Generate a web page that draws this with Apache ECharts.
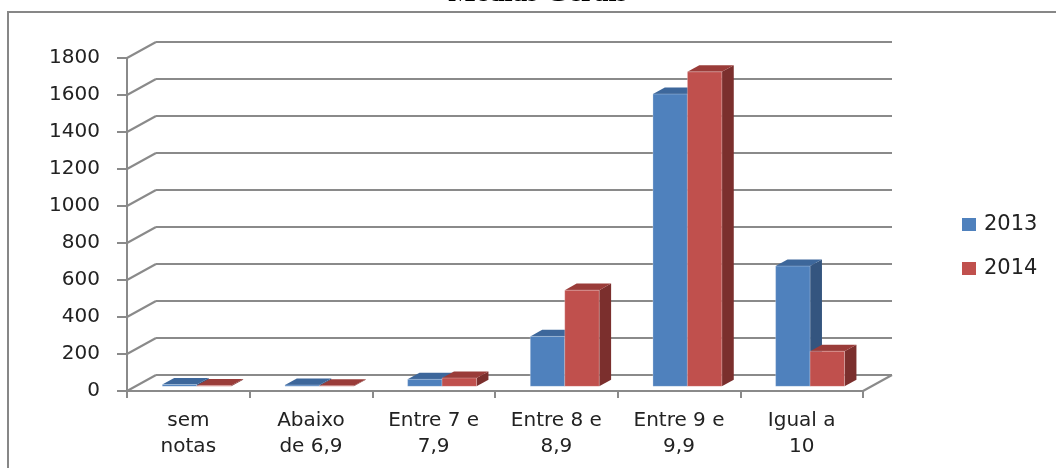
<!DOCTYPE html>
<html>
<head>
<meta charset="utf-8">
<script src="https://cdn.jsdelivr.net/npm/echarts@6/dist/echarts.min.js"></script>
<style>
html,body{margin:0;padding:0;background:#fff;}
#chart{width:1056px;height:468px;}
</style>
</head>
<body>
<div id="chart"></div>
<script>
const categories = ['sem\nnotas', 'Abaixo\nde 6,9', 'Entre 7 e\n7,9', 'Entre 8 e\n8,9', 'Entre 9 e\n9,9', 'Igual a\n10'];
const seriesNames = ['2013', '2014'];
const values2013 = [10, 7, 38, 270, 1580, 650];
const values2014 = [5, 3, 45, 520, 1700, 190];
const yTicks = [0, 200, 400, 600, 800, 1000, 1200, 1400, 1600, 1800];
const titleText = 'Medias Gerais';

// layout (front plane and back wall of the 3D box)
const FRONT = {left: 127, top: 58, right: 193, bottom: 77};
const BACK = {left: 156, top: 42, right: 164, bottom: 93};
const DX = BACK.left - FRONT.left;
const DY = BACK.top - FRONT.top;
const F1 = 0.29, F2 = 0.70, BAR_FRAC = 0.281;
const GRID_COLOR = '#8a8a8a';
const TEXT_COLOR = '#222';
const FONT = '"DejaVu Sans", Verdana, sans-serif';

const faces = {
  '2013': {front: '#4F81BD', top: '#3D679B', side: '#34557F'},
  '2014': {front: '#C0504D', top: '#9A3C39', side: '#7B2F2D'}
};

function barRenderer(name, idx) {
  const c = faces[name];
  return function (params, api) {
    const i = api.value(0), v = api.value(1);
    const top = api.coord([i, v]);
    const base = api.coord([i, 0]);
    const band = api.size([1, 0])[0];
    const w = band * BAR_FRAC;
    const x0 = top[0] - w + idx * w;
    const yT = top[1], yB = base[1];
    const fx = x0 + F1 * DX, fyT = yT + F1 * DY, fyB = yB + F1 * DY;
    const bx = x0 + F2 * DX, byT = yT + F2 * DY, byB = yB + F2 * DY;
    return {
      type: 'group',
      children: [
        {type: 'polygon', shape: {points: [[fx + w, fyT], [bx + w, byT], [bx + w, byB], [fx + w, fyB]]},
         style: {fill: c.side}},
        {type: 'polygon', shape: {points: [[fx, fyT], [fx + w, fyT], [bx + w, byT], [bx, byT]]},
         style: {fill: c.top}},
        {type: 'rect', shape: {x: fx, y: fyT, width: w, height: fyB - fyT},
         style: {fill: c.front, stroke: 'rgba(255,255,255,0.25)', lineWidth: 1}}
      ]
    };
  };
}

const chart = echarts.init(document.getElementById('chart'), null, {renderer: 'canvas'});
chart.setOption({
  animation: false,
  backgroundColor: '#fff',
  graphic: [
    {type: 'rect', shape: {x: 8, y: 12, width: 1200, height: 600},
     style: {fill: 'none', stroke: '#878787', lineWidth: 2}, z: 0},
    {type: 'text', x: 538, y: -6,
     style: {text: titleText, font: 'bold 29px "Liberation Serif", "Times New Roman", serif',
             fill: '#000', textAlign: 'center', textVerticalAlign: 'middle'}}
  ],
  legend: {
    orient: 'vertical', left: 957, top: 209, itemWidth: 14, itemHeight: 13, itemGap: 23,
    textStyle: {fontFamily: FONT, fontSize: 21, color: TEXT_COLOR, padding: [0, 0, 0, 3]},
    data: seriesNames.map(n => ({name: n, icon: 'rect'}))
  },
  grid: [
    Object.assign({containLabel: false}, FRONT),
    Object.assign({containLabel: false}, BACK)
  ],
  xAxis: [
    {type: 'category', gridIndex: 0, data: categories, boundaryGap: true,
     axisLine: {show: true, lineStyle: {color: GRID_COLOR, width: 2}},
     axisTick: {show: true, length: 7, lineStyle: {color: GRID_COLOR, width: 2}},
     axisLabel: {fontFamily: FONT, fontSize: 20, color: TEXT_COLOR, margin: 17, lineHeight: 26, interval: 0}},
    {type: 'category', gridIndex: 1, data: categories, show: false}
  ],
  yAxis: [
    {type: 'value', gridIndex: 0, min: 0, max: 1800, interval: 200,
     axisLine: {show: true, lineStyle: {color: GRID_COLOR, width: 2}},
     axisTick: {show: true, length: 10, lineStyle: {color: GRID_COLOR, width: 2}},
     axisLabel: {fontFamily: FONT, fontSize: 20, color: TEXT_COLOR, margin: 27,
                 formatter: function (v) { return String(v); }},
     splitLine: {show: false}},
    {type: 'value', gridIndex: 1, min: 0, max: 1800, interval: 200,
     axisLine: {show: false}, axisTick: {show: false}, axisLabel: {show: false},
     splitLine: {show: true, lineStyle: {color: GRID_COLOR, width: 2}}}
  ],
  series: [
    {type: 'custom', name: 'walls', xAxisIndex: 0, yAxisIndex: 0, silent: true, z: 1,
     data: yTicks.map(v => [0, v]),
     renderItem: function (params, api) {
       const cs = params.coordSys;
       const p = api.coord([0, api.value(1)]);
       const children = [
         {type: 'line', shape: {x1: cs.x, y1: p[1], x2: cs.x + DX, y2: p[1] + DY},
          style: {stroke: GRID_COLOR, lineWidth: 2}}
       ];
       if (api.value(1) === 0) {
         children.push({type: 'line', shape: {x1: cs.x + cs.width, y1: p[1], x2: cs.x + cs.width + DX, y2: p[1] + DY},
                        style: {stroke: GRID_COLOR, lineWidth: 2}});
       }
       return {type: 'group', children: children};
     }},
    {type: 'custom', name: '2013', xAxisIndex: 0, yAxisIndex: 0, z: 3,
     itemStyle: {color: faces['2013'].front},
     data: values2013.map((v, i) => [i, v]),
     renderItem: barRenderer('2013', 0)},
    {type: 'custom', name: '2014', xAxisIndex: 0, yAxisIndex: 0, z: 4,
     itemStyle: {color: faces['2014'].front},
     data: values2014.map((v, i) => [i, v]),
     renderItem: barRenderer('2014', 1)}
  ]
});
</script>
</body>
</html>
